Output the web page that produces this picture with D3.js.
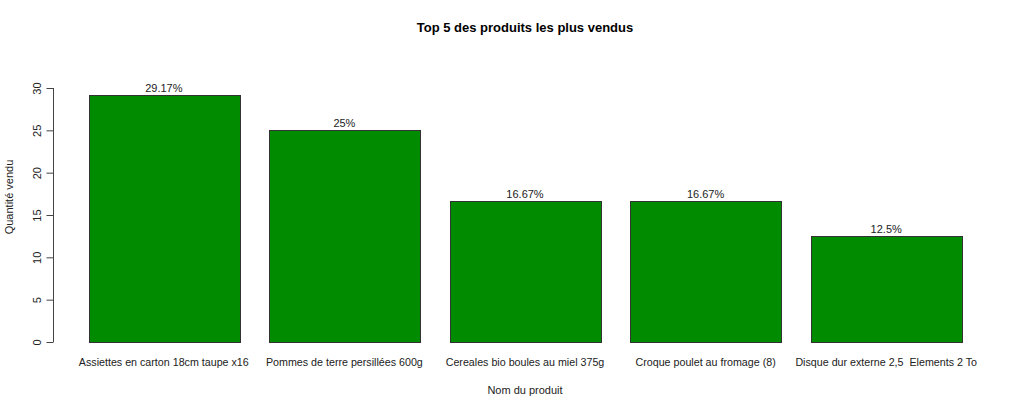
<!DOCTYPE html>
<html><head><meta charset="utf-8">
<script src="https://cdn.jsdelivr.net/npm/d3@7"></script>
<style>body{margin:0;background:#fff}text{font-family:"Liberation Sans",Arial,sans-serif;white-space:pre}</style>
</head><body><svg id="c" width="1024" height="409"></svg>
<script>
const categories = ["Assiettes en carton 18cm taupe x16","Pommes de terre persillées 600g","Cereales bio boules au miel 375g","Croque poulet au fromage (8)","Disque dur externe 2,5  Elements 2 To"];
const values = [29.17, 25, 16.67, 16.67, 12.5];
const labels = ["29.17%","25%","16.67%","16.67%","12.5%"];
const yTicks = [0,5,10,15,20,25,30];

const svg = d3.select("#c");
const x = d3.scaleBand().domain(categories).range([73.5, 976.5]).paddingInner(1/6).paddingOuter(1/12);
const y = d3.scaleLinear().domain([0, 30]).range([342, 88]);

svg.append("text").attr("x", 525).attr("y", 32).attr("text-anchor","middle")
  .attr("font-size", 13).attr("font-weight","bold").text("Top 5 des produits les plus vendus");

svg.selectAll("rect.bar").data(values).join("rect").attr("class","bar")
  .attr("x",(d,i)=>Math.round(x(categories[i]))+0.5).attr("width",Math.round(x.bandwidth()))
  .attr("y",d=>Math.round(y(d))+0.5).attr("height",d=>y(0)-Math.round(y(d)))
  .attr("fill","#008B00").attr("stroke","#333").attr("stroke-width",1);

svg.selectAll("text.pct").data(values).join("text").attr("class","pct")
  .attr("x",(d,i)=>x(categories[i])+x.bandwidth()/2).attr("y",d=>y(d)-3)
  .attr("text-anchor","middle").attr("font-size",11).attr("fill","#222").text((d,i)=>labels[i]);

svg.selectAll("text.cat").data(categories).join("text").attr("class","cat")
  .attr("x",d=>x(d)+x.bandwidth()/2).attr("y",366).attr("xml:space","preserve")
  .attr("text-anchor","middle").attr("font-size",10.7).attr("fill","#222").text(d=>d);

const ax = svg.append("g").attr("transform","translate(53.5,0)")
  .call(d3.axisLeft(y).tickValues(yTicks).tickSize(7).tickPadding(9).tickFormat(d3.format("d")));
ax.selectAll("path,line").attr("stroke","#444");
ax.select(".domain").attr("d","M0,"+y(0)+"V"+y(30));
ax.selectAll(".tick text").attr("font-size",11).attr("fill","#222").attr("font-family","Liberation Sans, Arial, sans-serif")
  .attr("transform","rotate(-90)").attr("x",0).attr("y",-13).attr("dy","0").attr("text-anchor","middle");

svg.append("text").attr("transform","translate(13,197) rotate(-90)").attr("text-anchor","middle")
  .attr("font-size",11).attr("fill","#222").text("Quantité vendu");
svg.append("text").attr("x",525).attr("y",394).attr("text-anchor","middle")
  .attr("font-size",11).attr("fill","#222").text("Nom du produit");
</script></body></html>
